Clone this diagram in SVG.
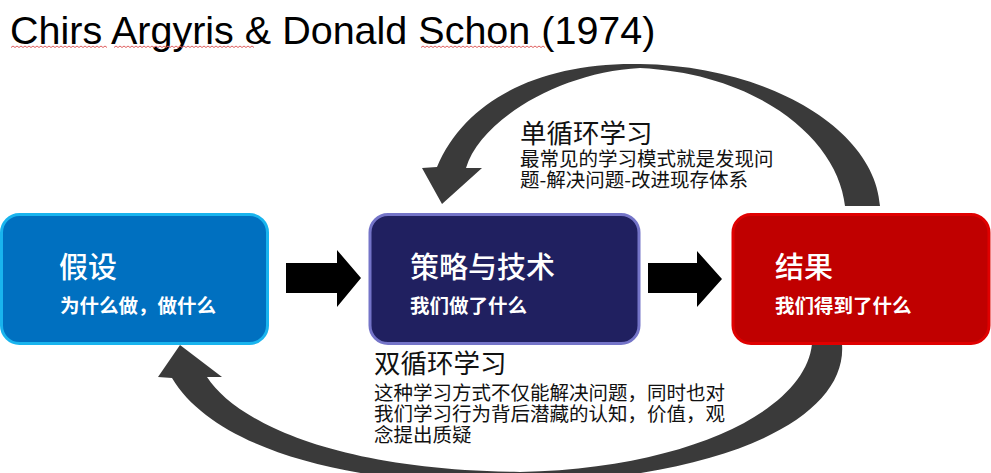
<svg xmlns="http://www.w3.org/2000/svg" width="991" height="473" viewBox="0 0 991 473">
  <style>
    .title { font-family: "Liberation Sans", Arial, sans-serif; font-size: 39.5px; fill: #000; }
    .cjk { font-family: "Noto Sans CJK SC", "Noto Sans", sans-serif; }
    .nodeTitle { font-size: 29px; font-weight: 500; fill: #fff; }
    .nodeSub { font-size: 19.5px; font-weight: bold; fill: #fff; }
    .loopTitle { font-size: 26.5px; fill: #111; }
    .loopText { font-size: 19.5px; fill: #111; }
    .block { fill: #000; }
    .curve { fill: #3a3a3a; }
    .squiggle { fill: none; stroke: #e06060; stroke-width: 1; }
  </style>

  <g id="title">
    <text class="title" x="10" y="44">Chirs Argyris &amp; Donald Schon (1974)</text>
    <path class="squiggle" d="M11 47.5 l2 -1.5 l2 1.5 l2 -1.5 l2 1.5 l2 -1.5 l2 1.5 l2 -1.5 l2 1.5 l2 -1.5 l2 1.5 l2 -1.5 l2 1.5 l2 -1.5 l2 1.5 l2 -1.5 l2 1.5 l2 -1.5 l2 1.5 l2 -1.5 l2 1.5 l2 -1.5 l2 1.5 l2 -1.5 l2 1.5 l2 -1.5 l2 1.5 l2 -1.5 l2 1.5 l2 -1.5 l2 1.5 l2 -1.5 l2 1.5 l2 -1.5 l2 1.5 l2 -1.5 l2 1.5 l2 -1.5 l2 1.5 l2 -1.5 l2 1.5 l2 -1.5 l2 1.5 l2 -1.5 l2 1.5 l2 -1.5 l2 1.5 l2 -1.5 l2 1.5"/>
    <path class="squiggle" d="M114 47.5 l2 -1.5 l2 1.5 l2 -1.5 l2 1.5 l2 -1.5 l2 1.5 l2 -1.5 l2 1.5 l2 -1.5 l2 1.5 l2 -1.5 l2 1.5 l2 -1.5 l2 1.5 l2 -1.5 l2 1.5 l2 -1.5 l2 1.5 l2 -1.5 l2 1.5 l2 -1.5 l2 1.5 l2 -1.5 l2 1.5 l2 -1.5 l2 1.5 l2 -1.5 l2 1.5 l2 -1.5 l2 1.5 l2 -1.5 l2 1.5 l2 -1.5 l2 1.5 l2 -1.5 l2 1.5 l2 -1.5 l2 1.5 l2 -1.5 l2 1.5 l2 -1.5 l2 1.5 l2 -1.5 l2 1.5 l2 -1.5 l2 1.5 l2 -1.5 l2 1.5 l2 -1.5 l2 1.5 l2 -1.5 l2 1.5 l2 -1.5 l2 1.5 l2 -1.5 l2 1.5 l2 -1.5 l2 1.5 l2 -1.5 l2 1.5 l2 -1.5 l2 1.5 l2 -1.5 l2 1.5 l2 -1.5 l2 1.5 l2 -1.5 l2 1.5 l2 -1.5 l2 1.5"/>
    <path class="squiggle" d="M421 47.5 l2 -1.5 l2 1.5 l2 -1.5 l2 1.5 l2 -1.5 l2 1.5 l2 -1.5 l2 1.5 l2 -1.5 l2 1.5 l2 -1.5 l2 1.5 l2 -1.5 l2 1.5 l2 -1.5 l2 1.5 l2 -1.5 l2 1.5 l2 -1.5 l2 1.5 l2 -1.5 l2 1.5 l2 -1.5 l2 1.5 l2 -1.5 l2 1.5 l2 -1.5 l2 1.5 l2 -1.5 l2 1.5 l2 -1.5 l2 1.5 l2 -1.5 l2 1.5 l2 -1.5 l2 1.5 l2 -1.5 l2 1.5 l2 -1.5 l2 1.5 l2 -1.5 l2 1.5 l2 -1.5 l2 1.5 l2 -1.5 l2 1.5 l2 -1.5 l2 1.5 l2 -1.5 l2 1.5 l2 -1.5 l2 1.5 l2 -1.5 l2 1.5 l2 -1.5 l2 1.5 l2 -1.5 l2 1.5 l2 -1.5 l2 1.5 l2 -1.5 l2 1.5"/>
  </g>

  <g id="connectors">
    <polygon class="block" points="286,263 337,263 337,250 361,278 337,307 337,293 286,293"/>
    <polygon class="block" points="648,263 697,263 697,251 722,279 697,307 697,293 648,293"/>
    <path id="single-loop-arrow" class="curve" d="M880,206 C875,130 770,66 640,64 C540,62 465,100 437,167 L422,168 L442,204 L482,168 L466,168 C480,120 560,72 640,68 C760,74 838,140 845,206 Z"/>
    <path id="double-loop-arrow" class="curve" d="M842,344 C848,420 720,482 500,484 C350,484 215,450 172,378 L158,377 L180,345 L222,377 L207,377 C235,420 330,470 520,472 C690,468 805,410 812,344 Z"/>
  </g>

  <g id="node-hypothesis">
    <rect x="1.5" y="214.5" width="266" height="129" rx="18" fill="#0070C0" stroke="#19B4EE" stroke-width="3"/>
    <text class="cjk nodeTitle" x="59" y="278">假设</text>
    <text class="cjk nodeSub" x="60" y="313">为什么做，做什么</text>
  </g>

  <g id="node-strategy">
    <rect x="370" y="214.5" width="269" height="129" rx="18" fill="#202060" stroke="#7474C8" stroke-width="3"/>
    <text class="cjk nodeTitle" x="410" y="278">策略与技术</text>
    <text class="cjk nodeSub" x="410" y="313">我们做了什么</text>
  </g>

  <g id="node-result">
    <rect x="733" y="214.5" width="256" height="129" rx="18" fill="#C00000" stroke="#E00000" stroke-width="3"/>
    <text class="cjk nodeTitle" x="775" y="278">结果</text>
    <text class="cjk nodeSub" x="775" y="313">我们得到了什么</text>
  </g>

  <g id="label-single-loop">
    <text class="cjk loopTitle" x="520" y="143">单循环学习</text>
    <text class="cjk loopText" x="520" y="166">最常见的学习模式就是发现问</text>
    <text class="cjk loopText" x="520" y="187">题-解决问题-改进现存体系</text>
  </g>

  <g id="label-double-loop">
    <text class="cjk loopTitle" x="374" y="373">双循环学习</text>
    <text class="cjk loopText" x="374" y="400">这种学习方式不仅能解决问题，同时也对</text>
    <text class="cjk loopText" x="374" y="421">我们学习行为背后潜藏的认知，价值，观</text>
    <text class="cjk loopText" x="374" y="442">念提出质疑</text>
  </g>
</svg>
